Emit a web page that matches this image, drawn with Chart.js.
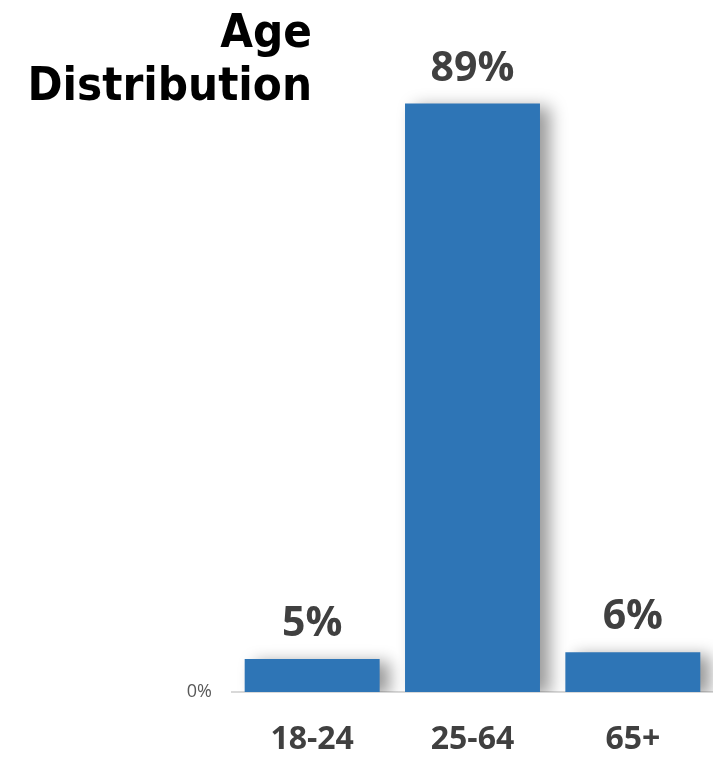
<!DOCTYPE html>
<html>
<head>
<meta charset="utf-8">
<title>Age Distribution</title>
<script src="https://cdn.jsdelivr.net/npm/chart.js@4.4.1/dist/chart.umd.min.js"></script>
<style>
  html, body { margin: 0; padding: 0; background: #fff; }
  #wrap { width: 713px; height: 758px; position: relative; }
</style>
</head>
<body>
<div id="wrap"><canvas id="chart"></canvas></div>
<script>
// 연령 분포 데이터
const ageGroups = ['18-24', '25-64', '65+'];
const sharePct = [5, 89, 6];
const titleLines = ['Age', 'Distribution'];

const barColor = '#2E75B6';
const labelColor = '#404040';

// 막대 그림자
const barShadow = {
  id: 'barShadow',
  beforeDatasetsDraw(chart) {
    const ctx = chart.ctx;
    ctx.save();
    ctx.shadowColor = 'rgba(0,0,0,0.4)';
    ctx.shadowBlur = 16;
    ctx.shadowOffsetX = 10;
    ctx.shadowOffsetY = 3;
  },
  afterDatasetsDraw(chart) {
    chart.ctx.restore();
  }
};

// 막대 위 퍼센트 라벨 + 왼쪽 위 제목
const barLabels = {
  id: 'barLabels',
  afterDraw(chart) {
    const ctx = chart.ctx;
    const meta = chart.getDatasetMeta(0);
    ctx.save();
    ctx.fillStyle = labelColor;
    ctx.font = 'bold 41px "Open Sans"';
    ctx.textAlign = 'center';
    ctx.textBaseline = 'alphabetic';
    meta.data.forEach((bar, i) => {
      ctx.fillText(sharePct[i] + '%', bar.x, bar.y - 23);
    });

    ctx.fillStyle = '#000';
    ctx.font = 'bold 47px "DejaVu Sans Condensed", "DejaVu Sans"';
    ctx.textAlign = 'right';
    ctx.fillText(titleLines[0], 312, 47);
    ctx.fillText(titleLines[1], 312, 100);
    ctx.restore();
  }
};

new Chart(document.getElementById('chart'), {
  type: 'bar',
  data: {
    labels: ageGroups,
    datasets: [{
      data: sharePct,
      backgroundColor: barColor,
      borderWidth: 0,
      categoryPercentage: 0.92,
      barPercentage: 0.915
    }]
  },
  options: {
    responsive: true,
    maintainAspectRatio: false,
    animation: false,
    layout: { padding: { top: 29, right: 0, left: 0, bottom: 0 } },
    plugins: {
      legend: { display: false },
      tooltip: { enabled: false }
    },
    scales: {
      x: {
        grid: { display: false, drawTicks: false },
        border: { display: true, color: '#D9D9D9', width: 2 },
        ticks: {
          color: labelColor,
          padding: 29,
          font: { family: 'Open Sans', size: 32, weight: 'bold' }
        },
        afterFit(scale) { scale.height = 66; }
      },
      y: {
        min: 0,
        max: 100,
        grid: { display: false, drawTicks: false },
        border: { display: false },
        afterBuildTicks(scale) { scale.ticks = [{ value: 0 }]; },
        ticks: {
          color: '#595959',
          padding: 20,
          font: { family: 'Open Sans', size: 18 },
          callback: v => v + '%'
        },
        afterFit(scale) { scale.width = 232; }
      }
    }
  },
  plugins: [barShadow, barLabels]
});
</script>
</body>
</html>
